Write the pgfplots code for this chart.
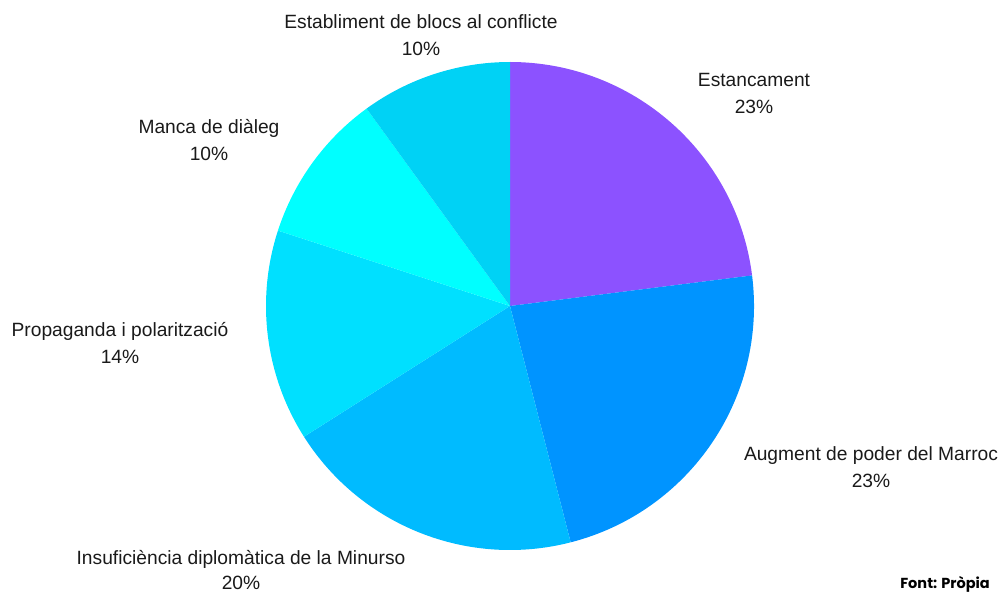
\documentclass[border=0pt]{standalone}
\usepackage{pgfplots}
\pgfplotsset{compat=1.18}
\usepackage{fontspec}
\setmainfont{Liberation Sans}
\newfontfamily\popfont{Poppins}
\definecolor{cA}{HTML}{8C52FF}
\definecolor{cB}{HTML}{0094FF}
\definecolor{cC}{HTML}{00BBFF}
\definecolor{cD}{HTML}{00E0FF}
\definecolor{cE}{HTML}{00FFFF}
\definecolor{cF}{HTML}{00D2F5}
\definecolor{txt}{HTML}{1A1A1A}
\begin{document}
\begin{tikzpicture}
\begin{axis}[scale only axis, width=1000pt, height=592pt,
  xmin=0, xmax=1000, ymin=0, ymax=592, hide axis, clip=false]
\path (rel axis cs:0,0) rectangle (rel axis cs:1,1);
\pgfplotsextra{
  \foreach \p/\c [remember=\e as \s (initially 90)] in {23/cA, 23/cB, 20/cC, 14/cD, 10/cE, 10/cF} {
    \pgfmathsetmacro{\e}{\s-3.6*\p}
    \fill[\c] (axis cs:510,286) -- ++(\s:244pt) arc[start angle=\s, end angle=\e, radius=244pt] -- cycle;
  }
}
\tikzset{lab/.style={anchor=base, text=txt, font=\fontsize{19.2}{23}\selectfont, inner sep=0pt}}
\node[lab] at (axis cs:421,563) {Establiment de blocs al conflicte};
\node[lab] at (axis cs:421,536) {10\%};
\node[lab] at (axis cs:754,505) {Estancament};
\node[lab] at (axis cs:754,478) {23\%};
\node[lab] at (axis cs:209,458) {Manca de diàleg};
\node[lab] at (axis cs:209,431) {10\%};
\node[lab] at (axis cs:120,255) {Propaganda i polarització};
\node[lab] at (axis cs:120,229) {14\%};
\node[lab] at (axis cs:871,132) {Augment de poder del Marroc};
\node[lab] at (axis cs:871,105) {23\%};
\node[lab] at (axis cs:241,28) {Insuficiència diplomàtica de la Minurso};
\node[lab] at (axis cs:241,3) {20\%};
\node[anchor=base east, inner sep=0pt, font=\popfont\bfseries\fontsize{14.5}{17}\selectfont] at (axis cs:990,4) {Font: Pròpia};
\end{axis}
\end{tikzpicture}
\end{document}
